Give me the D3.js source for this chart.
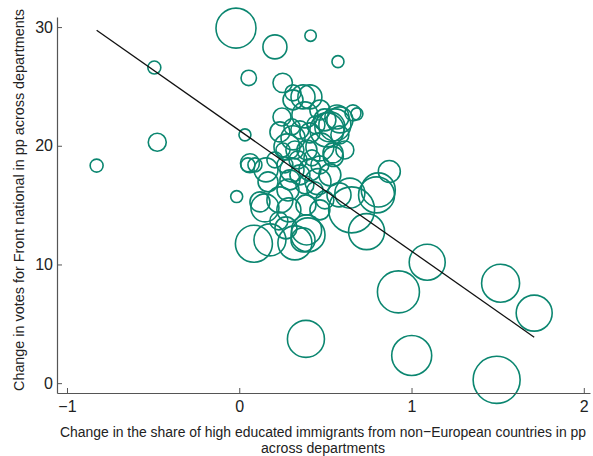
<!DOCTYPE html>
<html>
<head>
<meta charset="utf-8">
<script src="https://cdn.jsdelivr.net/npm/d3@7"></script>
<style>
  body { margin: 0; background: #fff; }
  text { font-family: "Liberation Sans Narrow", "Arial Narrow", "Liberation Sans", sans-serif; }
</style>
</head>
<body>
<div id="chart"></div>
<script>
// change in share of high educated non-European immigrants (pp)
const immShare = [
  -0.828, -0.493, -0.476, -0.019, 0.207, 0.414, 0.573, 0.055, 0.252, 0.033,
  -0.015, 0.085, 0.178, 0.323, 0.399, 0.387, 0.924, 1.091, 1.001, 1.494,
  1.517, 1.712, 0.739, 0.652, 0.797, 0.871, 0.807, 0.642, 0.546, 0.457,
  0.391, 0.062, 0.091, 0.155, 0.149, 0.120, 0.236, 0.283, 0.370, 0.312,
  0.410, 0.381, 0.526, 0.567, 0.248, 0.236, 0.312, 0.277, 0.393, 0.468,
  0.410, 0.660, 0.683, 0.509, 0.544, 0.306, 0.370, 0.312, 0.497, 0.468,
  0.584, 0.341, 0.265, 0.352, 0.410, 0.294, 0.207, 0.381, 0.468, 0.526,
  0.323, 0.422, 0.584, 0.445, 0.352, 0.254, 0.167, 0.050, 0.288, 0.468,
  0.555, 0.613, 0.306, 0.387, 0.271, 0.497, 0.439, 0.230, 0.579
];
// change in Front national vote (pp)
const fnChange = [
  18.33, 26.59, 20.30, 29.91, 28.33, 29.28, 27.09, 25.72, 25.30, 20.92,
  15.72, 11.74, 12.07, 11.82, 12.49, 3.73, 7.69, 10.19, 2.33, 0.28,
  8.42, 5.90, 12.77, 14.60, 15.86, 17.83, 16.28, 16.01, 19.09, 16.98,
  12.91, 18.53, 18.39, 17.97, 14.77, 15.27, 15.44, 16.28, 12.07, 23.87,
  24.12, 22.60, 21.59, 22.43, 22.43, 21.17, 20.67, 19.91, 19.65, 19.91,
  21.09, 22.77, 22.69, 21.34, 19.40, 21.59, 24.12, 24.46, 22.18, 23.02,
  20.92, 18.81, 18.39, 17.55, 17.97, 17.13, 18.81, 16.71, 18.39, 17.55,
  19.65, 18.98, 22.18, 21.76, 21.34, 19.65, 16.96, 18.39, 14.60, 14.60,
  21.76, 19.65, 17.97, 15.02, 13.08, 15.44, 16.28, 13.67, 15.86
];
// department population (thousands), used for bubble area
const population = [
  227, 227, 435, 2149, 774, 175, 193, 319, 505, 193,
  193, 1839, 1375, 1553, 1553, 1839, 2369, 1741, 2149, 2967,
  1939, 1741, 1741, 2842, 1741, 650, 1553, 1209, 537, 908,
  1209, 485, 263, 774, 1053, 537, 908, 650, 774, 537,
  774, 908, 1209, 774, 435, 537, 774, 908, 537, 1053,
  537, 344, 193, 1553, 537, 344, 774, 344, 650, 537,
  435, 435, 344, 537, 650, 537, 344, 435, 435, 650,
  435, 344, 908, 435, 435, 263, 537, 263, 774, 537,
  1375, 435, 774, 537, 650, 435, 344, 435, 774
];
// weighted linear fit
const fitIntercept = 21.30;
const fitSlope = -10.18;

const xTicks = [-1, 0, 1, 2];
const yTicks = [0, 10, 20, 30];

const W = 593, H = 456;
const svg = d3.select("#chart").append("svg")
  .attr("width", W)
  .attr("height", H);

const x = d3.scaleLinear().domain([-1.058, 2.036]).range([57, 590]);
const y = d3.scaleLinear().domain([-0.83, 30.85]).range([393, 17]);
const r = d3.scaleSqrt().domain([0, 2600]).range([0, 22]);

const points = immShare.map((v, i) => ({ x: v, y: fnChange[i], pop: population[i] }));

// bubbles
svg.append("g")
  .selectAll("circle")
  .data(points)
  .join("circle")
    .attr("cx", d => x(d.x))
    .attr("cy", d => y(d.y))
    .attr("r", d => r(d.pop))
    .attr("fill", "none")
    .attr("stroke", "#0b8670")
    .attr("stroke-width", 1.6);

// fitted line
const xExt = d3.extent(immShare);
svg.append("line")
  .attr("x1", x(xExt[0]))
  .attr("y1", y(fitIntercept + fitSlope * xExt[0]))
  .attr("x2", x(xExt[1]))
  .attr("y2", y(fitIntercept + fitSlope * xExt[1]))
  .attr("stroke", "#111")
  .attr("stroke-width", 1.3);

// axes
const fmt = d3.format("d");
const xAxisG = svg.append("g")
  .attr("transform", `translate(0, ${y.range()[0]})`)
  .call(d3.axisBottom(x).tickValues(xTicks).tickFormat(fmt).tickSizeInner(-5).tickSizeOuter(0).tickPadding(8));
const yAxisG = svg.append("g")
  .attr("transform", `translate(${x.range()[0]}, 0)`)
  .call(d3.axisLeft(y).tickValues(yTicks).tickFormat(fmt).tickSizeInner(-5).tickSizeOuter(0).tickPadding(4));

[xAxisG, yAxisG].forEach(g => {
  g.select(".domain").attr("stroke", "#555").attr("stroke-width", 1.2);
  g.selectAll(".tick line").attr("stroke", "#555");
  g.selectAll(".tick text")
    .attr("fill", "#222")
    .style("font-size", "16px")
    .style("font-family", "'Liberation Sans Narrow', 'Arial Narrow', sans-serif");
});

// axis titles (squeezed to the narrow width of the original face)
svg.append("text")
  .attr("transform", `translate(24, 200) rotate(-90)`)
  .attr("text-anchor", "middle")
  .attr("fill", "#222")
  .attr("textLength", 382)
  .attr("lengthAdjust", "spacingAndGlyphs")
  .style("font-size", "15.5px")
  .text("Change in votes for Front national in pp across departments");

svg.append("text")
  .attr("x", 323)
  .attr("y", 437)
  .attr("text-anchor", "middle")
  .attr("fill", "#222")
  .attr("textLength", 526)
  .attr("lengthAdjust", "spacingAndGlyphs")
  .style("font-size", "15.5px")
  .text("Change in the share of high educated immigrants from non\u2212European countries in pp");
svg.append("text")
  .attr("x", 323)
  .attr("y", 453)
  .attr("text-anchor", "middle")
  .attr("fill", "#222")
  .attr("textLength", 124)
  .attr("lengthAdjust", "spacingAndGlyphs")
  .style("font-size", "15.5px")
  .text("across departments");
</script>
</body>
</html>
